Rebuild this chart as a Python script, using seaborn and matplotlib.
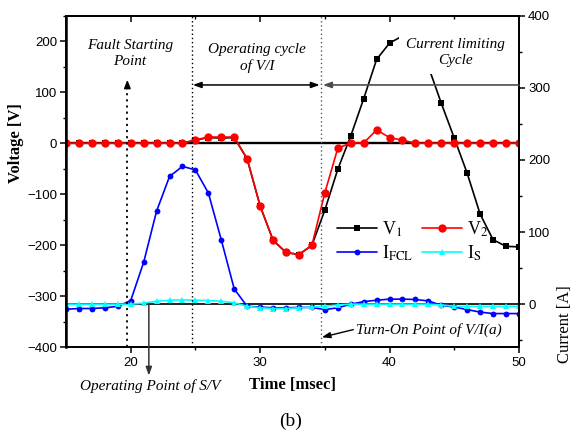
import matplotlib
matplotlib.use("Agg")
import matplotlib.pyplot as plt
from matplotlib.ticker import MultipleLocator, FixedLocator
import numpy as np
import pandas as pd
import seaborn as sns

# ---------------- data ----------------
time_ms = [15, 16, 17, 18, 19, 20, 21, 22, 23, 24, 25, 26, 27, 28, 29, 30, 31, 32,
           33, 34, 35, 36, 37, 38, 39, 40, 41, 42, 43, 44, 45, 46, 47, 48, 49, 50]
v1 = [0, 0, 0, 0, 0, 0, 0, 0, 0, 0, 6, 11, 10, 11, -31, -123, -190, -214,
      -218, -200, -131, -51, 14, 87, 164, 196, 210, 195, 150, 78, 10, -59, -139, -189, -202, -203]
v2 = [0, 0, 0, 0, 0, 0, 0, 0, 0, 0, 6.5, 12, 12, 12, -31, -123, -190, -214,
      -218, -200, -97, -10, 0.5, 0.5, 26, 11, 6, 0, 0, 0, 0, 0, 0, 0, 0, 0]
i_fcl = [-7, -6, -6, -5, -3, 5, 58, 129, 177, 191, 186, 154, 89, 21, -3, -4, -5, -5,
         -4.5, -4.5, -7.5, -5, 0, 3.5, 5.5, 7, 7, 6.5, 4.5, -1.5, -4, -7.5, -11, -13, -13, -13]
i_s = [0, 0, 0, 0, 0, 0, 1.5, 4, 5.5, 6, 5.5, 5, 4, 2, -3, -5, -6, -6,
       -5, -4, -3, -1, 0, 0, 0, 0, 0, 0, 0, -1, -3, -3, -3, -3, -3, -3]

series_labels = ["V$_1$", "V$_2$", "I$_{\\rm FCL}$", "I$_{\\rm S}$"]

df = pd.DataFrame({"t": time_ms, "V1": v1, "V2": v2, "IFCL": i_fcl, "IS": i_s})

# ---------------- style ----------------
sns.set_style("ticks")
plt.rcParams["font.family"] = ["Liberation Sans", "DejaVu Sans"]
plt.rcParams["mathtext.fontset"] = "stix"
plt.rcParams["axes.edgecolor"] = "black"
plt.rcParams["xtick.color"] = "black"
plt.rcParams["ytick.color"] = "black"
plt.rcParams["text.color"] = "black"
plt.rcParams["axes.labelcolor"] = "black"

serif = ["Liberation Serif", "DejaVu Serif"]

fig = plt.figure(figsize=(5.72, 4.33), dpi=100)
ax = fig.add_axes([0.1154, 0.1975, 0.7919, 0.7667])
ax2 = ax.twinx()
ax.set_zorder(ax2.get_zorder() + 1)
ax.patch.set_visible(False)

# current traces (right axis)
sns.lineplot(data=df, x="t", y="IFCL", ax=ax2, color="#0000ff", marker="o", markersize=4.2,
             markeredgecolor="#0000ff", markeredgewidth=0, linewidth=1.2, label=series_labels[2])
sns.lineplot(data=df, x="t", y="IS", ax=ax2, color="#00ffff", marker="^", markersize=4.8,
             markeredgecolor="#00ffff", markeredgewidth=0, linewidth=1.2, label=series_labels[3])
ax2.axhline(0, color="black", lw=1.2, zorder=1.5)

# voltage traces (left axis)
ax.axhline(0, color="black", lw=1.7, zorder=1.5)
sns.lineplot(data=df, x="t", y="V1", ax=ax, color="black", marker="s", markersize=5,
             markeredgecolor="black", markeredgewidth=0, linewidth=1.2, label=series_labels[0])
sns.lineplot(data=df, x="t", y="V2", ax=ax, color="#ff0000", marker="o", markersize=6,
             markeredgecolor="#ff0000", markeredgewidth=0, linewidth=1.2, label=series_labels[1])

# ---------------- axes ----------------
ax.set_xlim(15, 50)
ax.set_ylim(-400, 250)
ax2.set_ylim(-60, 400)
ax.xaxis.set_major_locator(FixedLocator([20, 30, 40, 50]))
ax.xaxis.set_minor_locator(FixedLocator([25, 35, 45]))
ax.yaxis.set_major_locator(MultipleLocator(100))
ax.yaxis.set_minor_locator(MultipleLocator(50))
ax2.yaxis.set_major_locator(FixedLocator([0, 100, 200, 300, 400]))
ax2.yaxis.set_minor_locator(FixedLocator([-50, 50, 150, 250, 350]))

for a in (ax, ax2):
    a.tick_params(which="major", direction="out", length=4.5, width=1.1, labelsize=9.5, pad=2)
    a.tick_params(which="minor", direction="out", length=2.5, width=1.0)
    for s in a.spines.values():
        s.set_linewidth(1.3)
        s.set_visible(True)
ax.spines["left"].set_linewidth(1.8)

top = ax.secondary_xaxis("top")
top.xaxis.set_major_locator(FixedLocator([20, 30, 40]))
top.xaxis.set_minor_locator(FixedLocator([25, 35, 45]))
top.tick_params(which="major", direction="in", length=4.5, width=1.1, labeltop=False)
top.tick_params(which="minor", direction="in", length=2.5, width=1.0)
top.spines["top"].set_linewidth(1.3)

ax.set_xlabel("Time [msec]", fontfamily=serif, fontweight="bold", fontsize=12)
ax.xaxis.set_label_coords(0.499, -0.088)
ax.set_ylabel("Voltage [V]", fontfamily=serif, fontweight="bold", fontsize=12)
ax.yaxis.set_label_coords(-0.092, 0.616)
ax2.set_ylabel("Current [A]", fontfamily=serif, fontsize=12)
ax2.yaxis.set_label_coords(1.085, 0.07)

# ---------------- legend ----------------
if ax2.get_legend() is not None:
    ax2.get_legend().remove()
h1, l1 = ax.get_legend_handles_labels()
h2, l2 = ax2.get_legend_handles_labels()
handles = [h1[0], h2[0], h1[1], h2[1]]
labels = [l1[0], l2[0], l1[1], l2[1]]
ax.legend(handles, labels, ncol=2, loc="upper left", bbox_to_anchor=(0.598, 0.386),
          frameon=False, borderaxespad=0, borderpad=0, handlelength=2.2, handletextpad=0.3,
          columnspacing=0.5, labelspacing=0.25, prop={"family": serif, "size": 13})

# ---------------- annotations ----------------
it = dict(fontfamily=serif, style="italic", fontsize=11, linespacing=1.3)
ax.text(19.92, 175, "Fault Starting\nPoint", ha="center", va="center", zorder=6, **it)
ax.text(29.77, 167, "Operating cycle\nof V/I", ha="center", va="center", zorder=6, **it)
ax.text(45.08, 178, "Current limiting\nCycle", ha="center", va="center", zorder=6,
        bbox=dict(facecolor="white", edgecolor="none", pad=5), **it)
ax.text(37.38, -366, "Turn-On Point of V/I(a)", ha="left", va="center", zorder=6, **it)
ax.text(21.54, -476, "Operating Point of S/V", ha="center", va="center", zorder=6, clip_on=False, **it)

# vertical markers
ax.plot([19.74, 19.74], [-400, 116], ls=(0, (1.2, 2.2)), color="black", lw=1.3, zorder=5)
ax.annotate("", xy=(19.74, 124), xytext=(19.74, 112),
            arrowprops=dict(arrowstyle="-|>,head_length=0.5,head_width=0.2", color="black", lw=1,
                            shrinkA=0, shrinkB=0), zorder=5)
ax.axvline(24.75, ls=(0, (1, 2)), color="black", lw=1.0, zorder=5)
ax.axvline(34.67, ls=(0, (1, 2)), color="0.35", lw=1.0, zorder=5)

# horizontal cycle arrows
ax.annotate("", xy=(24.8, 114), xytext=(34.6, 114),
            arrowprops=dict(arrowstyle="<|-|>,head_length=0.5,head_width=0.18", color="black", lw=1.1,
                            shrinkA=0, shrinkB=0), zorder=5)
ax.annotate("", xy=(34.85, 114), xytext=(50, 114),
            arrowprops=dict(arrowstyle="-|>,head_length=0.5,head_width=0.18", color="0.3", lw=1.2,
                            shrinkA=0, shrinkB=0), zorder=5)

# operating point of S/V arrow
ax.annotate("", xy=(21.4, -455), xytext=(21.4, -314),
            arrowprops=dict(arrowstyle="-|>,head_length=0.5,head_width=0.18", color="0.2", lw=1.1,
                            shrinkA=0, shrinkB=0), annotation_clip=False, zorder=5)
# turn-on arrow
ax.annotate("", xy=(34.77, -380), xytext=(37.2, -365),
            arrowprops=dict(arrowstyle="-|>,head_length=0.5,head_width=0.18", color="black", lw=1.0,
                            shrinkA=0, shrinkB=0), zorder=5)

fig.text(291 / 572, 1 - 421.7 / 433, "(b)", ha="center", va="center", fontfamily=serif, fontsize=14)

fig.savefig("out.png", dpi=100)
